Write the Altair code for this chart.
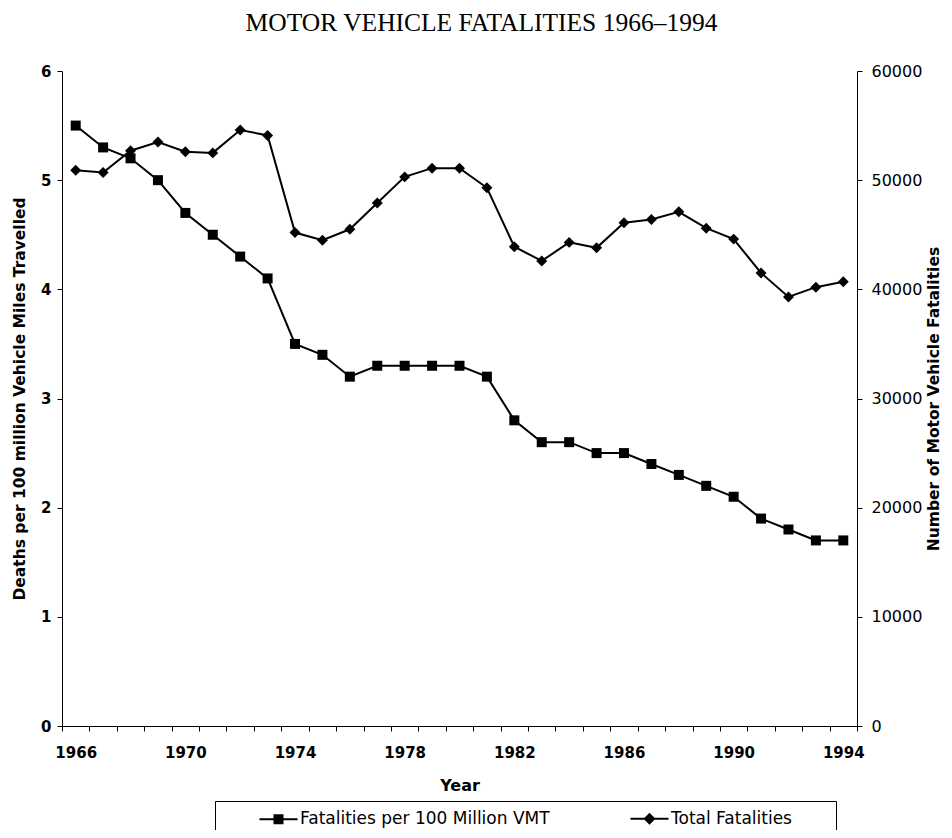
import altair as alt
import pandas as pd

years = list(range(1966, 1995))
rate = [5.5, 5.3, 5.2, 5.0, 4.7, 4.5, 4.3, 4.1, 3.5, 3.4, 3.2, 3.3, 3.3, 3.3, 3.3,
        3.2, 2.8, 2.6, 2.6, 2.5, 2.5, 2.4, 2.3, 2.2, 2.1, 1.9, 1.8, 1.7, 1.7]
total = [50900, 50700, 52700, 53500, 52600, 52500, 54600, 54100, 45200, 44500,
         45500, 47900, 50300, 51100, 51100, 49300, 43900, 42600, 44300, 43800,
         46100, 46400, 47100, 45600, 44600, 41500, 39300, 40200, 40700]
series_names = ["Fatalities per 100 Million VMT", "Total Fatalities"]
left_ticks = [0, 1, 2, 3, 4, 5, 6]
right_ticks = [0, 10000, 20000, 30000, 40000, 50000, 60000]

df = pd.DataFrame({"year": years, "rate": rate, "total": total})
legend_df = pd.DataFrame({"series": series_names})

SANS = "DejaVu Sans"

x_enc = alt.X(
    "year:O",
    scale=alt.Scale(type="band", paddingInner=0, paddingOuter=0),
    axis=alt.Axis(
        title="Year",
        labelExpr="(datum.value - 1966) % 4 == 0 ? datum.label : ''",
        labelOverlap=False,
        labelAngle=0,
        tickBand="extent",
        tickSize=5,
        labelPadding=14,
        labelFont=SANS,
        labelFontSize=15,
        labelFontWeight="bold",
        labelColor="black",
        titleFont=SANS,
        titleFontSize=16,
        titleFontWeight="bold",
        titleColor="black",
        titlePadding=17,
        domainColor="black",
        tickColor="black",
        grid=False,
    ),
)

left_axis = alt.Axis(
    orient="left",
    title="Deaths per 100 million Vehicle Miles Travelled",
    values=left_ticks,
    grid=False,
    tickSize=5,
    labelPadding=6,
    labelFont=SANS,
    labelFontSize=15,
    labelFontWeight="bold",
    labelColor="black",
    titleFont=SANS,
    titleFontSize=15.5,
    titleFontWeight="bold",
    titleColor="black",
    titlePadding=13,
    domainColor="black",
    tickColor="black",
)

right_axis = alt.Axis(
    orient="right",
    title="Number of Motor Vehicle Fatalities",
    values=right_ticks,
    format="d",
    grid=False,
    tickSize=5,
    labelPadding=9,
    labelFont=SANS,
    labelFontSize=16,
    labelColor="black",
    titleFont=SANS,
    titleFontSize=15.5,
    titleFontWeight="bold",
    titleColor="black",
    titleAngle=270,
    titleBaseline="top",
    titlePadding=5,
    domainColor="black",
    tickColor="black",
)

base = alt.Chart(df)

rate_y = alt.Y("rate:Q", scale=alt.Scale(domain=[0, 6], nice=False), axis=left_axis)
rate_layer = alt.layer(
    base.mark_line(color="black", strokeWidth=2).encode(x=x_enc, y=rate_y),
    base.mark_point(shape="square", filled=True, color="black", size=100, opacity=1).encode(x=x_enc, y=rate_y),
)

total_y = alt.Y("total:Q", scale=alt.Scale(domain=[0, 60000], nice=False), axis=right_axis)
total_layer = alt.layer(
    base.mark_line(color="black", strokeWidth=2).encode(x=x_enc, y=total_y),
    base.mark_point(shape="diamond", filled=True, color="black", size=120, opacity=1).encode(x=x_enc, y=total_y),
)

sq_path = "M5.4,-0.2H13V0.2H5.4ZM8.2,-1H10.2V1H8.2Z"
dia_path = "M5.4,-0.2H13V0.2H5.4ZM9.2,-1.2L10.4,0L9.2,1.2L8,0ZM44,0Z"

legend_layer = alt.Chart(legend_df).transform_filter("false").mark_point(
    filled=True, color="black", size=100, opacity=1
).encode(
    shape=alt.Shape(
        "series:N",
        scale=alt.Scale(domain=series_names, range=[sq_path, dia_path]),
        legend=alt.Legend(
            title=None,
            orient="none",
            legendX=153,
            legendY=730,
            direction="horizontal",
            strokeColor="black",
            fillColor="white",
            padding=9,
            symbolSize=100,
            symbolFillColor="black",
            symbolOpacity=1,
            labelFont=SANS,
            labelFontSize=17,
            labelColor="black",
            labelOffset=59,
            labelLimit=400,
            columnPadding=45,
        ),
    )
)

chart = alt.layer(rate_layer, total_layer, legend_layer).resolve_scale(
    y="independent"
).properties(
    width=795,
    height=655,
    autosize=alt.AutoSizeParams(type="none"),
    padding={"left": 54, "top": 63, "right": 87, "bottom": 104},
    background="white",
    title=alt.TitleParams(
        text="MOTOR VEHICLE FATALITIES 1966–1994",
        font="Liberation Serif",
        fontSize=25.5,
        fontWeight="normal",
        color="black",
        anchor="middle",
        dx=22,
        offset=27,
    ),
).configure_view(strokeOpacity=0)

chart.save("out.html", embed_options={"renderer": "svg", "actions": False})
